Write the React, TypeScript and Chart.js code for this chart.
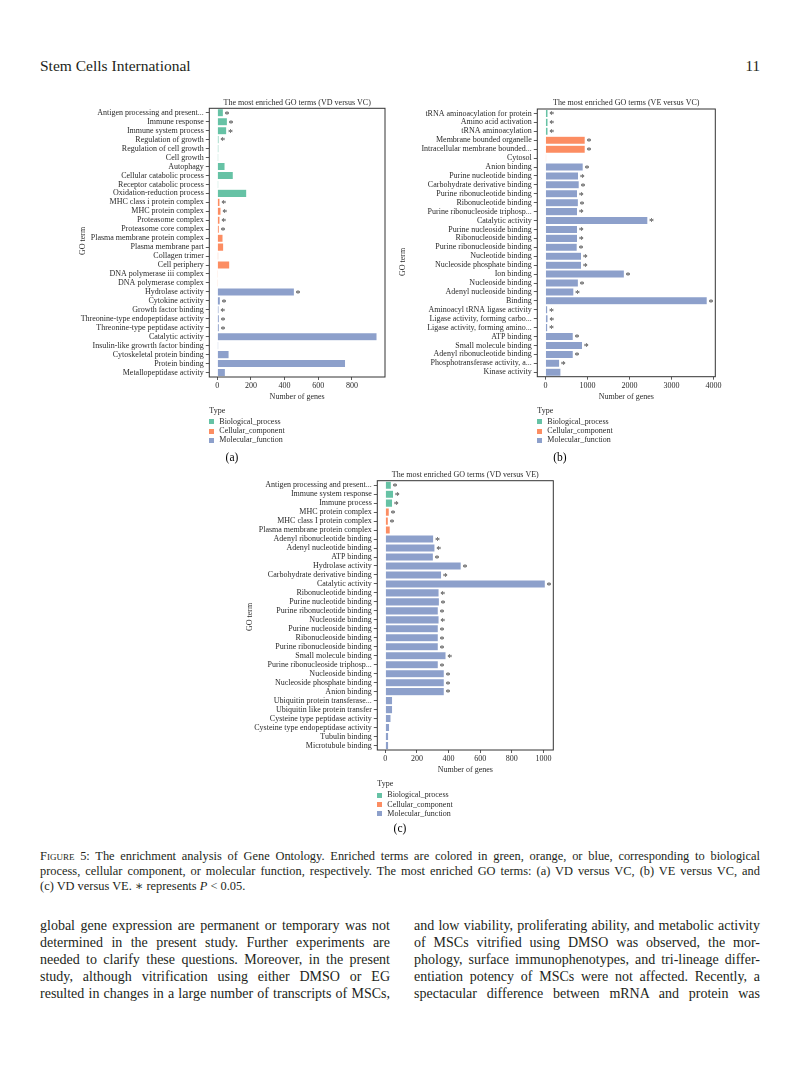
import React, { useEffect, useRef } from "react";
import { Chart, registerables } from "chart.js";
Chart.register(...registerables);

const FONT = '"Liberation Serif", "DejaVu Serif", serif';
const INK = "#2a2a2a";
const TYPE_COLORS: Record<string, string> = { B: "#66c2a5", C: "#fc8d62", M: "#8da0cb" };
const TYPE_KEYS = ["B", "C", "M"];
const TYPE_NAMES = ["Biological_process", "Cellular_component", "Molecular_function"];

// ---- (a) VD versus VC ----
const aTerms = [
  "Antigen processing and present...", "Immune response", "Immune system process", "Regulation of growth",
  "Regulation of cell growth", "Cell growth", "Autophagy", "Cellular catabolic process",
  "Receptor catabolic process", "Oxidation-reduction process", "MHC class i protein complex", "MHC protein complex",
  "Proteasome complex", "Proteasome core complex", "Plasma membrane protein complex", "Plasma membrane part",
  "Collagen trimer", "Cell periphery", "DNA polymerase iii complex", "DNA polymerase complex",
  "Hydrolase activity", "Cytokine activity", "Growth factor binding", "Threonine-type endopeptidase activity",
  "Threonine-type peptidase activity", "Catalytic activity", "Insulin-like growrth factor binding",
  "Cytoskeletal protein binding", "Protein binding", "Metallopeptidase activity",
];
const aTypes = ["B","B","B","B","B","B","B","B","B","B","C","C","C","C","C","C","C","C","C","C","M","M","M","M","M","M","M","M","M","M"];
const aCounts = [36, 60, 56, 10, 9, 8, 46, 95, 8, 175, 16, 22, 16, 12, 34, 38, 8, 74, 6, 6, 458, 18, 10, 12, 12, 949, 8, 70, 762, 48];
const aSig = [1,1,1,1,0,0,0,0,0,0,1,1,1,1,0,0,0,0,0,0,1,1,1,1,1,0,0,0,0,0];
const aTicks = [0, 200, 400, 600, 800];

// ---- (b) VE versus VC ----
const bTerms = [
  "tRNA aminoacylation for protein", "Amino acid activation", "tRNA aminoacylation", "Membrane bounded organelle",
  "Intracellular membrane bounded...", "Cytosol", "Anion binding", "Purine nucleotide binding",
  "Carbohydrate derivative binding", "Purine ribonucleotide binding", "Ribonucleotide binding",
  "Purine ribonucleoside triphosp...", "Catalytic activity", "Purine nucleoside binding", "Ribonucleoside binding",
  "Purine ribonucleoside binding", "Nucleotide binding", "Nucleoside phosphate binding", "Ion binding",
  "Nucleoside binding", "Adenyl nucleoside binding", "Binding", "Aminoacyl tRNA ligase activity",
  "Ligase activity, forming carbo...", "Ligase activity, forming amino...", "ATP binding", "Small molecule binding",
  "Adenyl ribonucleotide binding", "Phosphotransferase activity, a...", "Kinase activity",
];
const bTypes = ["B","B","B","C","C","C","M","M","M","M","M","M","M","M","M","M","M","M","M","M","M","M","M","M","M","M","M","M","M","M"];
const bCounts = [62, 62, 62, 948, 948, 25, 900, 789, 805, 765, 785, 765, 2440, 765, 765, 757, 860, 860, 1880, 785, 678, 3853, 55, 62, 55, 663, 884, 663, 339, 370];
const bSig = [1,1,1,1,1,0,1,1,1,1,1,1,1,1,1,1,1,1,1,1,1,1,1,1,1,1,1,1,1,0];
const bTicks = [0, 1000, 2000, 3000, 4000];

// ---- (c) VD versus VE ----
const cTerms = [
  "Antigen processing and present...", "Immune system response", "Immune process", "MHC protein complex",
  "MHC class I protein complex", "Plasma membrane protein complex", "Adenyl ribonucleotide binding",
  "Adenyl nucleotide binding", "ATP binding", "Hydrolase activity", "Carbohydrate derivative binding",
  "Catalytic activity", "Ribonucleotide binding", "Purine nucleotide binding", "Purine ribonucleotide binding",
  "Nucleoside binding", "Purine nucleoside binding", "Ribonucleoside binding", "Purine ribonucleoside binding",
  "Small molecule binding", "Purine ribonucleoside triphosp...", "Nucleoside binding", "Nucleoside phosphate binding",
  "Anion binding", "Ubiquitin protein transferase...", "Ubiquitin like protein transfer",
  "Cysteine type peptidase activity", "Cysteine type endopeptidase activity", "Tubulin binding", "Microtubule binding",
];
const cTypes = ["B","B","B","C","C","C","M","M","M","M","M","M","M","M","M","M","M","M","M","M","M","M","M","M","M","M","M","M","M","M"];
const cCounts = [38, 52, 46, 25, 19, 31, 306, 314, 304, 480, 356, 1012, 340, 342, 335, 340, 335, 335, 335, 384, 335, 373, 373, 373, 46, 46, 36, 27, 21, 21];
const cSig = [1,1,1,1,1,0,1,1,1,1,1,1,1,1,1,1,1,1,1,1,1,1,1,1,0,0,0,0,0,0];
const cTicks = [0, 200, 400, 600, 800, 1000];

type Layout = {
  left: number; top: number; width: number; height: number;
  areaLeft: number; areaTop: number; areaRight: number; areaBottom: number;
  goTermX: number; goTermY: number; xTitleY: number; titleY: number;
};

function GoChart(props: {
  terms: string[]; types: string[]; counts: number[]; sig: number[]; ticks: number[];
  title: string; lay: Layout;
}) {
  const { terms, types, counts, sig, ticks, title, lay } = props;
  const ref = useRef<HTMLCanvasElement>(null);
  useEffect(() => {
    if (!ref.current) return;
    const M = Math.max(...counts);
    const decor = {
      id: "decor",
      afterDraw(chart: any) {
        const { ctx, chartArea: ca } = chart;
        ctx.save();
        ctx.strokeStyle = "#333";
        ctx.lineWidth = 1;
        ctx.strokeRect(ca.left, ca.top, ca.right - ca.left, ca.bottom - ca.top);
        ctx.fillStyle = INK;
        ctx.font = `8px ${FONT}`;
        ctx.textAlign = "center";
        ctx.textBaseline = "middle";
        ctx.fillText(title, (ca.left + ca.right) / 2, lay.titleY - lay.top);
        ctx.fillText("Number of genes", (ca.left + ca.right) / 2, lay.xTitleY - lay.top);
        ctx.save();
        ctx.translate(lay.goTermX - lay.left, lay.goTermY - lay.top);
        ctx.rotate(-Math.PI / 2);
        ctx.fillText("GO term", 0, 0);
        ctx.restore();
        const meta = chart.getDatasetMeta(0);
        ctx.textAlign = "left";
        ctx.font = `10px ${FONT}`;
        ctx.fillStyle = "#3a3a3a";
        meta.data.forEach((bar: any, i: number) => {
          if (sig[i]) ctx.fillText("*", bar.x + 1.2, bar.y + 2.2);
        });
        ctx.restore();
      },
    };
    const tickFont = { family: FONT, size: 8 };
    const chart = new Chart(ref.current, {
      type: "bar",
      data: {
        labels: terms,
        datasets: [
          {
            data: counts,
            backgroundColor: types.map((t) => TYPE_COLORS[t]),
            borderColor: "rgba(255,255,255,0.6)",
            borderWidth: 0.5,
            barPercentage: 0.9,
            categoryPercentage: 1,
          },
        ],
      },
      options: {
        indexAxis: "y",
        animation: false,
        responsive: false,
        maintainAspectRatio: false,
        devicePixelRatio: 1,
        layout: {
          padding: {
            left: 0,
            top: lay.areaTop - lay.top,
            right: lay.left + lay.width - lay.areaRight,
            bottom: 0,
          },
        },
        plugins: { legend: { display: false }, tooltip: { enabled: false }, title: { display: false } },
        scales: {
          x: {
            type: "linear",
            min: -0.05 * M,
            max: 1.05 * M,
            afterBuildTicks: (s: any) => {
              s.ticks = ticks.map((v) => ({ value: v }));
            },
            afterFit: (s: any) => {
              s.height = lay.top + lay.height - lay.areaBottom;
            },
            grid: { drawOnChartArea: false, drawTicks: true, tickLength: 3, color: "#333", lineWidth: 0.8 },
            border: { display: false },
            ticks: {
              font: tickFont, color: INK, padding: 1, maxRotation: 0, autoSkip: false,
              callback: (v: any) => String(v),
            },
          },
          y: {
            type: "category",
            afterFit: (s: any) => {
              s.width = lay.areaLeft - lay.left;
            },
            grid: { drawOnChartArea: false, drawTicks: true, tickLength: 3.5, color: "#333", lineWidth: 0.8, offset: false },
            border: { display: false },
            ticks: { font: tickFont, color: INK, padding: 2, autoSkip: false },
          },
        },
      } as any,
      plugins: [decor],
    });
    return () => chart.destroy();
  }, []);
  return (
    <canvas
      ref={ref}
      width={lay.width}
      height={lay.height}
      style={{ position: "absolute", left: lay.left, top: lay.top, width: lay.width, height: lay.height }}
    />
  );
}

function TypeLegend({ x, y }: { x: number; y: number }) {
  const base: React.CSSProperties = {
    position: "absolute",
    fontFamily: FONT,
    fontSize: 8,
    lineHeight: "10px",
    height: 10,
    whiteSpace: "nowrap",
    color: INK,
  };
  return (
    <>
      <div style={{ ...base, left: x, top: y - 5 }}>Type</div>
      {TYPE_KEYS.map((k, i) => (
        <React.Fragment key={k}>
          <div
            style={{
              position: "absolute",
              left: x,
              top: y + 11 + i * 9.3 - 2.5,
              width: 5,
              height: 5,
              background: TYPE_COLORS[k],
            }}
          />
          <div style={{ ...base, left: x + 10, top: y + 11 + i * 9.3 - 5 }}>{TYPE_NAMES[i]}</div>
        </React.Fragment>
      ))}
    </>
  );
}

const layA: Layout = {
  left: 0, top: 90, width: 400, height: 322,
  areaLeft: 209.3, areaTop: 108.3, areaRight: 385, areaBottom: 377,
  goTermX: 83, goTermY: 241, xTitleY: 396.5, titleY: 102.5,
};
const layB: Layout = {
  left: 395, top: 90, width: 340, height: 322,
  areaLeft: 537.3, areaTop: 109, areaRight: 715.3, areaBottom: 376.7,
  goTermX: 403, goTermY: 262, xTitleY: 396.5, titleY: 103,
};
const layC: Layout = {
  left: 200, top: 462, width: 370, height: 322,
  areaLeft: 377.3, areaTop: 480.7, areaRight: 553.3, areaBottom: 750,
  goTermX: 250, goTermY: 617, xTitleY: 770, titleY: 475,
};

const captionLines = [
  "The enrichment analysis of Gene Ontology. Enriched terms are colored in green, orange, or blue, corresponding to biological",
  "process, cellular component, or molecular function, respectively. The most enriched GO terms: (a) VD versus VC, (b) VE versus VC, and",
];
const leftBody = [
  "global gene expression are permanent or temporary was not",
  "determined in the present study. Further experiments are",
  "needed to clarify these questions. Moreover, in the present",
  "study, although vitrification using either DMSO or EG",
  "resulted in changes in a large number of transcripts of MSCs,",
];
const rightBody = [
  "and low viability, proliferating ability, and metabolic activity",
  "of MSCs vitrified using DMSO was observed, the mor-",
  "phology, surface immunophenotypes, and tri-lineage differ-",
  "entiation potency of MSCs were not affected. Recently, a",
  "spectacular difference between mRNA and protein was",
];

function Line({ x, y, w, size, lh, children, justify = true }: any) {
  return (
    <div
      style={{
        position: "absolute",
        left: x,
        top: y - lh / 2,
        width: w,
        height: lh,
        lineHeight: `${lh}px`,
        fontSize: size,
        fontFamily: FONT,
        color: "#231f20",
        whiteSpace: "nowrap",
        textAlign: justify ? "justify" : "left",
        textAlignLast: justify ? "justify" : "left",
      } as React.CSSProperties}
    >
      {children}
    </div>
  );
}

export default function App() {
  return (
    <div style={{ position: "absolute", left: 0, top: 0, width: 800, height: 1066, background: "#fff", overflow: "hidden" }}>
      <Line x={40} y={66} w={300} size={15.5} lh={18} justify={false}>Stem Cells International</Line>
      <div style={{ position: "absolute", right: 40, top: 57, fontFamily: FONT, fontSize: 15, lineHeight: "18px", color: "#231f20" }}>11</div>

      <GoChart terms={aTerms} types={aTypes} counts={aCounts} sig={aSig} ticks={aTicks} title="The most enriched GO terms (VD versus VC)" lay={layA} />
      <GoChart terms={bTerms} types={bTypes} counts={bCounts} sig={bSig} ticks={bTicks} title="The most enriched GO terms (VE versus VC)" lay={layB} />
      <GoChart terms={cTerms} types={cTypes} counts={cCounts} sig={cSig} ticks={cTicks} title="The most enriched GO terms (VD versus VE)" lay={layC} />

      <TypeLegend x={209.3} y={410.7} />
      <TypeLegend x={537.3} y={410.7} />
      <TypeLegend x={377.3} y={784.3} />

      <div style={{ position: "absolute", left: 212, width: 40, top: 450, textAlign: "center", fontFamily: FONT, fontSize: 11.5, lineHeight: "14px" }}>(a)</div>
      <div style={{ position: "absolute", left: 540, width: 40, top: 450, textAlign: "center", fontFamily: FONT, fontSize: 11.5, lineHeight: "14px" }}>(b)</div>
      <div style={{ position: "absolute", left: 380, width: 40, top: 821, textAlign: "center", fontFamily: FONT, fontSize: 11.5, lineHeight: "14px" }}>(c)</div>

      <Line x={40} y={856} w={720} size={12.4} lh={15}>
        <span style={{ fontVariant: "small-caps" }}>Figure 5:</span> {captionLines[0]}
      </Line>
      <Line x={40} y={871} w={720} size={12.4} lh={15}>{captionLines[1]}</Line>
      <Line x={40} y={886} w={720} size={12.4} lh={15} justify={false}>
        (c) VD versus VE. ∗ represents <i>P</i> &lt; 0.05.
      </Line>

      {leftBody.map((t, i) => (
        <Line key={"l" + i} x={40} y={925 + i * 17} w={350} size={14} lh={17}>{t}</Line>
      ))}
      {rightBody.map((t, i) => (
        <Line key={"r" + i} x={414} y={925 + i * 17} w={346} size={14} lh={17}>{t}</Line>
      ))}
    </div>
  );
}
